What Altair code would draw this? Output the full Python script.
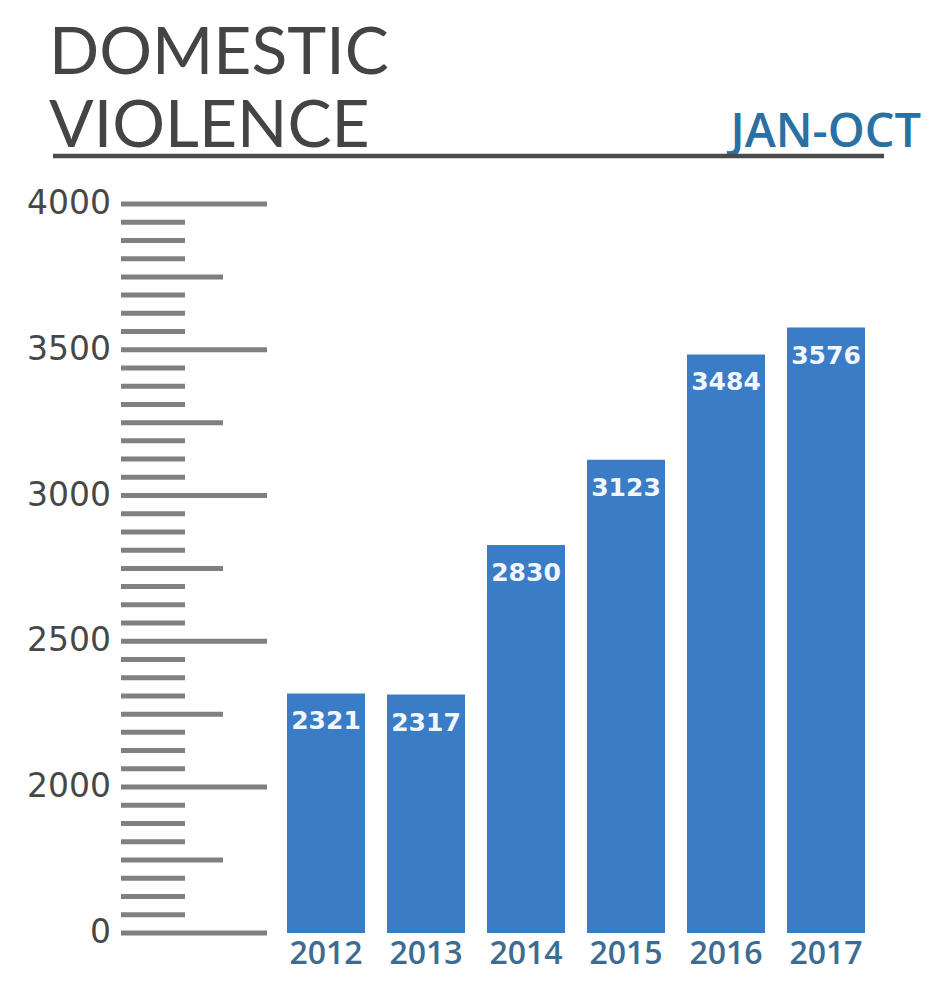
import altair as alt
import pandas as pd

# ---- data ----
years = ["2012", "2013", "2014", "2015", "2016", "2017"]
cases = [2321, 2317, 2830, 3123, 3484, 3576]

# axis (broken scale: 0 then 2000..4000)
major_ticks = [0, 2000, 2500, 3000, 3500, 4000]
major_labels = ["0", "2000", "2500", "3000", "3500", "4000"]
medium_ticks = [1000, 2250, 2750, 3250, 3750]
minor_ticks = [250, 500, 750, 1250, 1500, 1750,
               2062.5, 2125, 2187.5, 2312.5, 2375, 2437.5,
               2562.5, 2625, 2687.5, 2812.5, 2875, 2937.5,
               3062.5, 3125, 3187.5, 3312.5, 3375, 3437.5,
               3562.5, 3625, 3687.5, 3812.5, 3875, 3937.5]

title_line1 = "DOMESTIC"
title_line2 = "VIOLENCE"
subtitle = "JAN-OCT"

bars_df = pd.DataFrame({"year": years, "cases": cases})
major_df = pd.DataFrame({"v": major_ticks, "label": major_labels})
medium_df = pd.DataFrame({"v": medium_ticks})
minor_df = pd.DataFrame({"v": minor_ticks})

BAR = "#3a7cc5"
TICK = "#808080"

yscale = alt.Scale(domain=[0, 2000, 4000], range=[925, 779, 196], nice=False, zero=False)
xscale = alt.Scale(range=[268, 868], paddingInner=0.22, paddingOuter=0.11)

def tick_layer(df, x1, x2):
    return alt.Chart(df).mark_rule(color=TICK, strokeWidth=5, strokeCap="butt").encode(
        y=alt.Y("v:Q", scale=yscale, axis=None),
        x=alt.value(x1),
        x2=alt.value(x2),
    )

ticks_major = tick_layer(major_df, 113, 259)
ticks_medium = tick_layer(medium_df, 113, 215)
ticks_minor = tick_layer(minor_df, 113, 177)

axis_labels = alt.Chart(major_df).mark_text(
    align="right", baseline="middle", font="DejaVu Sans", fontSize=33, color="#474747"
).encode(
    y=alt.Y("v:Q", scale=yscale, axis=None),
    x=alt.value(103),
    text="label:N",
)

bars = alt.Chart(bars_df).mark_bar(color=BAR).encode(
    x=alt.X("year:O", scale=xscale, axis=None),
    y=alt.Y("cases:Q", scale=yscale, axis=None),
    y2=alt.datum(0),
)

bar_labels = alt.Chart(bars_df).mark_text(
    baseline="middle", align="center", dy=28, font="DejaVu Sans", fontWeight="bold",
    fontSize=25, color="#f2f6ff"
).encode(
    x=alt.X("year:O", scale=xscale, axis=None),
    y=alt.Y("cases:Q", scale=yscale, axis=None),
    text=alt.Text("cases:Q", format="d"),
)

year_labels = alt.Chart(bars_df).mark_text(
    baseline="middle", align="center", font="Open Sans", fontWeight=600,
    fontSize=32, color="#3d6b91"
).encode(
    x=alt.X("year:O", scale=xscale, axis=None),
    y=alt.value(946),
    text="year:N",
)

t1 = alt.Chart(pd.DataFrame({"t": [title_line1]})).mark_text(
    align="left", baseline="alphabetic", font="Lato", fontWeight=400, fontSize=66, color="#444444"
).encode(x=alt.value(41), y=alt.value(66), text="t:N")

t2 = alt.Chart(pd.DataFrame({"t": [title_line2]})).mark_text(
    align="left", baseline="alphabetic", font="Lato", fontWeight=400, fontSize=66, color="#444444"
).encode(x=alt.value(41), y=alt.value(139), text="t:N")

sub = alt.Chart(pd.DataFrame({"t": [subtitle]})).mark_text(
    align="right", baseline="alphabetic", font="Open Sans", fontWeight=600, fontSize=47, color="#2a70a2"
).encode(x=alt.value(913), y=alt.value(139), text="t:N")

underline = alt.Chart(pd.DataFrame({"a": [0]})).mark_rule(color="#4a4a4a", strokeWidth=4.5).encode(
    x=alt.value(45), x2=alt.value(876), y=alt.value(148)
)

chart = alt.layer(
    ticks_minor, ticks_medium, ticks_major, axis_labels,
    bars, bar_labels, year_labels, t1, t2, sub, underline
).properties(width=914, height=964, padding=0).configure_view(stroke=None)

chart.save("out.html", embed_options={"renderer": "svg", "actions": False})
